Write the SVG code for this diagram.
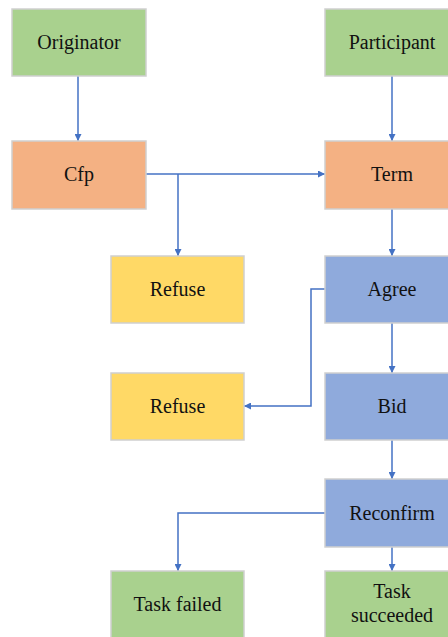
<svg xmlns="http://www.w3.org/2000/svg" width="448" height="637" viewBox="0 0 448 637">
<style>
.box{stroke:#cfcfcf;stroke-width:1.5}
.g{fill:#A9D18E}.o{fill:#F4B183}.y{fill:#FFD966}.b{fill:#8FAADC}
text{font-family:'Liberation Serif','DejaVu Serif',serif;font-size:20px;fill:#111;text-anchor:middle}
.c{fill:none;stroke:#4472C4;stroke-width:1.5;marker-end:url(#ah)}
</style>
<defs>
<marker id="ah" viewBox="0 0 10 10" refX="10" refY="5" markerWidth="7" markerHeight="7" markerUnits="userSpaceOnUse" orient="auto">
<path d="M0,0L10,5L0,10z" fill="#4472C4"/>
</marker>
</defs>
<rect width="448" height="637" fill="#fff"/>
<g id="connectors">
<path class="c" d="M78,76V141"/>
<path class="c" d="M392,76V141"/>
<path class="c" d="M146,174H325"/>
<path class="c" d="M178,174V256"/>
<path class="c" d="M392,209V256"/>
<path class="c" d="M325,289H311V406H244"/>
<path class="c" d="M392,323V373"/>
<path class="c" d="M392,440V479"/>
<path class="c" d="M325,513H178V571"/>
<path class="c" d="M392,547V571"/>
</g>
<g id="originator"><rect class="box g" x="12" y="9" width="134" height="67"/><text x="79" y="49" font-family="Liberation Serif, serif">Originator</text></g>
<g id="participant"><rect class="box g" x="325" y="9" width="134" height="67"/><text x="392" y="49">Participant</text></g>
<g id="cfp"><rect class="box o" x="12" y="141" width="134" height="68"/><text x="79" y="181">Cfp</text></g>
<g id="term"><rect class="box o" x="325" y="141" width="134" height="68"/><text x="392" y="181">Term</text></g>
<g id="refuse1"><rect class="box y" x="111" y="256" width="133" height="67"/><text x="177.5" y="296">Refuse</text></g>
<g id="agree"><rect class="box b" x="325" y="256" width="134" height="67"/><text x="392" y="296">Agree</text></g>
<g id="refuse2"><rect class="box y" x="111" y="373" width="133" height="67"/><text x="177.5" y="413">Refuse</text></g>
<g id="bid"><rect class="box b" x="325" y="373" width="134" height="67"/><text x="392" y="413">Bid</text></g>
<g id="reconfirm"><rect class="box b" x="325" y="479" width="134" height="68"/><text x="392" y="520">Reconfirm</text></g>
<g id="taskfailed"><rect class="box g" x="111" y="571" width="133" height="68"/><text x="177.5" y="611">Task failed</text></g>
<g id="tasksucceeded"><rect class="box g" x="325" y="571" width="134" height="68"/><text x="392" y="598">Task</text><text x="392" y="622">succeeded</text></g>
</svg>
